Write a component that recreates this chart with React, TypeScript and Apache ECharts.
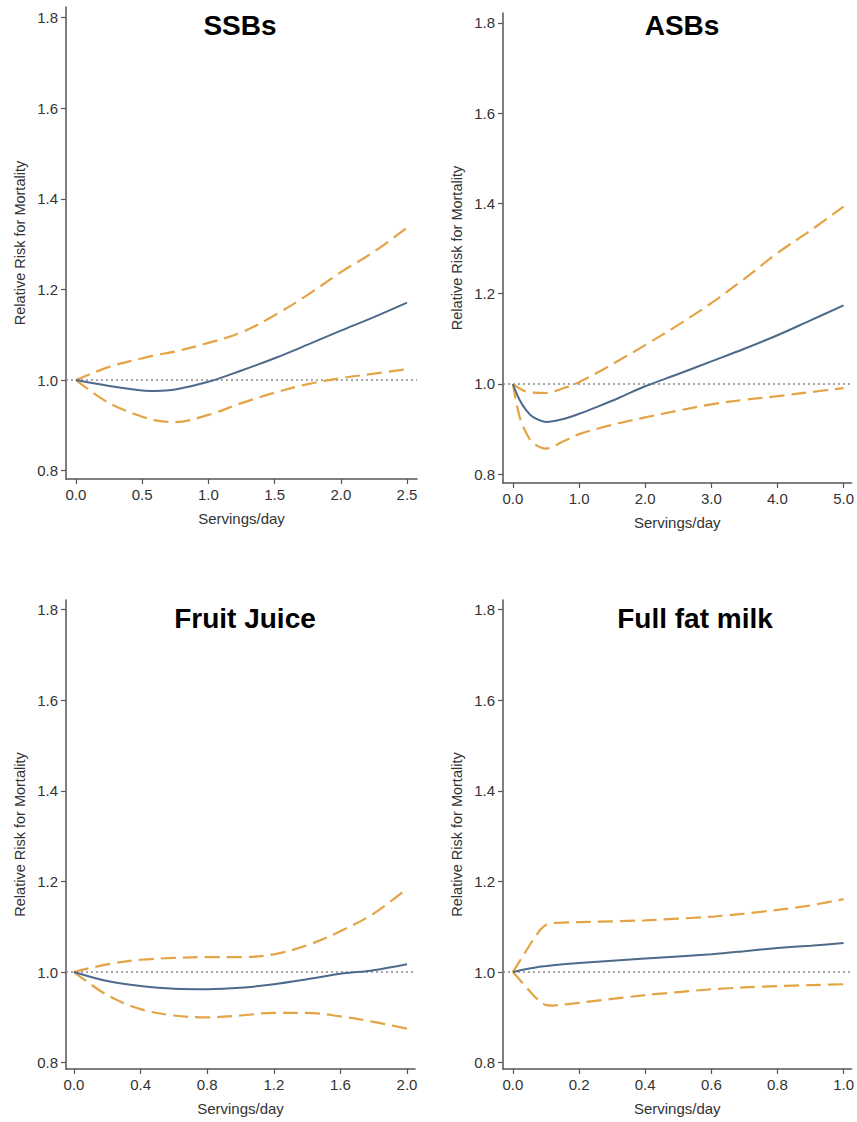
import React, { useEffect, useRef } from "react";
import * as echarts from "echarts";

// ---- Data ----
const panelTitles = ["SSBs", "ASBs", "Fruit Juice", "Full fat milk"];
const yTicks = [0.8, 1.0, 1.2, 1.4, 1.6, 1.8];

const ssbX = [0, 0.25, 0.5, 0.6, 0.75, 1.0, 1.25, 1.5, 1.75, 2.0, 2.25, 2.5];
const ssbRR = [1.0, 0.987, 0.977, 0.976, 0.979, 0.996, 1.021, 1.048, 1.078, 1.109, 1.139, 1.171];
const ssbUpper = [1.0, 1.029, 1.048, 1.055, 1.063, 1.082, 1.105, 1.143, 1.188, 1.238, 1.283, 1.336];
const ssbLower = [1.0, 0.949, 0.919, 0.911, 0.907, 0.923, 0.949, 0.972, 0.991, 1.004, 1.014, 1.024];
const ssbXTicks = [0, 0.5, 1.0, 1.5, 2.0, 2.5];

const asbX = [0, 0.1, 0.2, 0.3, 0.5, 0.75, 1.0, 1.3, 1.6, 2.0, 2.5, 3.0, 3.5, 4.0, 4.5, 5.0];
const asbRR = [1.0, 0.965, 0.942, 0.927, 0.916, 0.922, 0.934, 0.951, 0.969, 0.995, 1.022, 1.05, 1.078, 1.108, 1.141, 1.174];
const asbUpper = [1.0, 0.99, 0.983, 0.981, 0.98, 0.99, 1.004, 1.027, 1.052, 1.086, 1.131, 1.179, 1.233, 1.29, 1.34, 1.393];
const asbLower = [1.0, 0.928, 0.892, 0.870, 0.857, 0.872, 0.889, 0.902, 0.913, 0.926, 0.941, 0.955, 0.965, 0.973, 0.982, 0.991];
const asbXTicks = [0, 1, 2, 3, 4, 5];

const fjX = [0, 0.2, 0.4, 0.6, 0.8, 1.0, 1.2, 1.4, 1.6, 1.8, 2.0];
const fjRR = [1.0, 0.98, 0.969, 0.963, 0.962, 0.965, 0.973, 0.984, 0.996, 1.004, 1.017];
const fjUpper = [1.0, 1.017, 1.027, 1.031, 1.033, 1.033, 1.039, 1.059, 1.09, 1.129, 1.184];
const fjLower = [1.0, 0.949, 0.918, 0.904, 0.9, 0.904, 0.91, 0.91, 0.902, 0.89, 0.875];
const fjXTicks = [0, 0.4, 0.8, 1.2, 1.6, 2.0];

const milkX = [0, 0.03, 0.06, 0.085, 0.1, 0.12, 0.2, 0.4, 0.6, 0.7, 0.8, 0.9, 1.0];
const milkRR = [1.0, 1.005, 1.009, 1.012, 1.013, 1.015, 1.02, 1.03, 1.039, 1.046, 1.053, 1.058, 1.064];
const milkUpper = [1.0, 1.035, 1.07, 1.095, 1.104, 1.108, 1.11, 1.114, 1.122, 1.129, 1.137, 1.147, 1.161];
const milkLower = [1.0, 0.975, 0.95, 0.933, 0.927, 0.926, 0.932, 0.949, 0.962, 0.966, 0.969, 0.971, 0.973];
const milkXTicks = [0, 0.2, 0.4, 0.6, 0.8, 1.0];

const panels = [
  { x: ssbX, rr: ssbRR, up: ssbUpper, lo: ssbLower, ticks: ssbXTicks },
  { x: asbX, rr: asbRR, up: asbUpper, lo: asbLower, ticks: asbXTicks },
  { x: fjX, rr: fjRR, up: fjUpper, lo: fjLower, ticks: fjXTicks },
  { x: milkX, rr: milkRR, up: milkUpper, lo: milkLower, ticks: milkXTicks },
];

// ---- Layout ----
const gridBoxes = [
  { left: 66, top: 7, width: 351, height: 472 },
  { left: 503, top: 13, width: 350, height: 470 },
  { left: 66, top: 600, width: 349, height: 469 },
  { left: 503, top: 600, width: 350, height: 469 },
];
const xRanges = [
  [-0.0755, 2.5755],
  [-0.15, 5.12],
  [-0.048, 2.048],
  [-0.03, 1.024],
];
const yRanges = [
  [0.7815, 1.8234],
  [0.7807, 1.8217],
  [0.7859, 1.8212],
  [0.7859, 1.8212],
];
const titlePos = [
  { x: 240, y: 25 },
  { x: 682, y: 25 },
  { x: 245, y: 618 },
  { x: 695, y: 618 },
];
const smoothness = [0.35, 0.35, 0.35, 0.15];

const BLUE = "#4d6a8b";
const ORANGE = "#e3a445";
const AXIS = "#555";
const TEXT = "#333";
const FONT = "Liberation Sans, Arial, sans-serif";

export default function App() {
  const ref = useRef<HTMLDivElement>(null);
  useEffect(() => {
    if (!ref.current) return;
    const chart = echarts.init(ref.current, null, { renderer: "svg" });

    const grid = gridBoxes.map((g) => ({ ...g, containLabel: false }));
    const xAxis = panels.map((p, i) => ({
      type: "value",
      gridIndex: i,
      min: xRanges[i][0],
      max: xRanges[i][1],
      name: "Servings/day",
      nameLocation: "middle",
      nameGap: 32,
      nameTextStyle: { fontSize: 15, color: TEXT, fontFamily: FONT },
      splitLine: { show: false },
      axisLine: { show: true, onZero: false, lineStyle: { color: AXIS, width: 1.5 } },
      axisTick: { show: true, length: 5, customValues: p.ticks, lineStyle: { color: AXIS, width: 1.2 } },
      axisLabel: {
        customValues: p.ticks,
        formatter: (v: number) => v.toFixed(1),
        fontSize: 15,
        color: TEXT,
        fontFamily: FONT,
        margin: 8,
      },
    }));
    const yAxis = panels.map((_, i) => ({
      type: "value",
      gridIndex: i,
      min: yRanges[i][0],
      max: yRanges[i][1],
      name: "Relative Risk for Mortality",
      nameLocation: "middle",
      nameGap: 39,
      nameTextStyle: { fontSize: 14.5, color: TEXT, fontFamily: FONT },
      splitLine: { show: false },
      axisLine: { show: true, onZero: false, lineStyle: { color: AXIS, width: 1.5 } },
      axisTick: { show: true, length: 5, customValues: yTicks, lineStyle: { color: AXIS, width: 1.2 } },
      axisLabel: {
        customValues: yTicks,
        formatter: (v: number) => v.toFixed(1),
        fontSize: 15,
        color: TEXT,
        fontFamily: FONT,
        margin: 8,
      },
    }));

    const series: any[] = [];
    panels.forEach((p, i) => {
      series.push({
        type: "line",
        xAxisIndex: i,
        yAxisIndex: i,
        data: [
          [xRanges[i][0], 1],
          [xRanges[i][1], 1],
        ],
        symbol: "none",
        lineStyle: { color: "#8a8a8a", width: 1.4, type: [2, 3] },
        z: 1,
      });
      const mk = (vals: number[], color: string, dashed: boolean) => ({
        type: "line",
        xAxisIndex: i,
        yAxisIndex: i,
        data: p.x.map((xv, k) => [xv, vals[k]]),
        symbol: "none",
        smooth: smoothness[i],
        lineStyle: dashed
          ? { color, width: 2.2, type: [15, 7] }
          : { color, width: 2 },
        z: 2,
      });
      series.push(mk(p.up, ORANGE, true));
      series.push(mk(p.lo, ORANGE, true));
      series.push(mk(p.rr, BLUE, false));
    });

    const graphic = panelTitles.map((t, i) => ({
      type: "text",
      x: titlePos[i].x,
      y: titlePos[i].y,
      style: {
        text: t,
        fontSize: 28,
        fontWeight: "bold",
        fill: "#000",
        fontFamily: FONT,
        align: "center",
        verticalAlign: "middle",
      },
    }));

    chart.setOption({
      animation: false,
      backgroundColor: "#fff",
      grid,
      xAxis,
      yAxis,
      series,
      graphic,
    });
    return () => chart.dispose();
  }, []);
  return (
    <div
      ref={ref}
      style={{ position: "absolute", left: 0, top: 0, width: 857, height: 1122 }}
    />
  );
}
